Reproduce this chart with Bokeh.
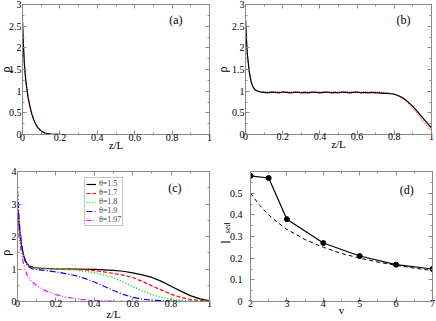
import numpy as np
from bokeh.plotting import figure
from bokeh.models import (Range1d, LinearAxis, FixedTicker, CustomJSTickFormatter,
                          Label, Legend, LegendItem)
from bokeh.layouts import column, row
from bokeh.embed import file_html
from bokeh.resources import INLINE

try:
    from bokeh.models import GlobalInlineStyleSheet
except Exception:  # pragma: no cover
    GlobalInlineStyleSheet = None

FONT = "Liberation Serif"
GRAY = "#8a8a8a"

# ---------------- data ----------------
# panel (a)
A_z = [0, 0.005, 0.01, 0.015, 0.02, 0.03, 0.04, 0.05, 0.06, 0.07, 0.08, 0.1, 0.12,
       0.15, 0.2, 0.3, 0.4, 0.5, 0.6, 0.7, 0.8, 0.9, 1.0]
A_black = [2.6, 2.05, 1.62, 1.35, 1.15, 0.85, 0.64, 0.47, 0.34, 0.24, 0.17, 0.08, 0.035,
           0.012, 0.003, 0, 0, 0, 0, 0, 0, 0, 0]
A_red = [2.7, 2.1, 1.68, 1.4, 1.18, 0.87, 0.65, 0.48, 0.35, 0.25, 0.17, 0.08, 0.035,
         0.012, 0.003, 0, 0, 0, 0, 0, 0, 0, 0]

# panel (b)
B_z = [0, 0.005, 0.01, 0.02, 0.03, 0.04, 0.05, 0.06, 0.08,
       0.10, 0.12, 0.14, 0.16, 0.18, 0.20, 0.22, 0.24, 0.26, 0.28, 0.30,
       0.32, 0.34, 0.36, 0.38, 0.40, 0.42, 0.44, 0.46, 0.48, 0.50,
       0.52, 0.54, 0.56, 0.58, 0.60, 0.62, 0.64, 0.66, 0.68, 0.70,
       0.72, 0.74, 0.76, 0.78, 0.80, 0.82, 0.84, 0.86, 0.88, 0.90,
       0.92, 0.94, 0.96, 0.98, 1.00]
B_black = [2.65, 2.2, 1.85, 1.45, 1.22, 1.1, 1.04, 1.01, 0.98,
           0.97, 0.96, 0.98, 0.97, 0.96, 0.98, 0.97, 0.96, 0.97, 0.98, 0.96,
           0.97, 0.96, 0.98, 0.97, 0.96, 0.97, 0.98, 0.96, 0.97, 0.96,
           0.98, 0.97, 0.96, 0.97, 0.98, 0.96, 0.97, 0.96, 0.97, 0.96,
           0.96, 0.95, 0.95, 0.94, 0.93, 0.90, 0.86, 0.80, 0.73, 0.65,
           0.55, 0.45, 0.35, 0.25, 0.15]
B_red = [2.7, 2.2, 1.85, 1.45, 1.22, 1.1, 1.04, 1.01, 0.99,
         0.98, 0.98, 0.98, 0.98, 0.98, 0.98, 0.98, 0.98, 0.98, 0.98, 0.98,
         0.98, 0.98, 0.98, 0.98, 0.98, 0.98, 0.98, 0.98, 0.98, 0.98,
         0.98, 0.98, 0.98, 0.98, 0.98, 0.98, 0.98, 0.98, 0.98, 0.98,
         0.98, 0.97, 0.96, 0.95, 0.93, 0.89, 0.84, 0.78, 0.70, 0.60,
         0.50, 0.39, 0.28, 0.17, 0.08]

# panel (c)
C_labels = ["θ=1.5", "θ=1.7", "θ=1.8", "θ=1.9", "θ=1.97"]
C_z_15 = [0, 0.01, 0.02, 0.03, 0.04, 0.05, 0.06, 0.08, 0.1, 0.2, 0.3, 0.4, 0.5, 0.55,
          0.6, 0.65, 0.7, 0.75, 0.8, 0.85, 0.9, 0.95, 1.0]
C_r_15 = [2.9, 2.2, 1.75, 1.45, 1.27, 1.16, 1.1, 1.05, 1.03, 1.0, 1.0, 0.99, 0.96, 0.93,
          0.88, 0.82, 0.74, 0.62, 0.47, 0.32, 0.18, 0.08, 0.02]
C_z_17 = [0, 0.01, 0.02, 0.03, 0.04, 0.05, 0.06, 0.08, 0.1, 0.2, 0.3, 0.4, 0.45, 0.5,
          0.55, 0.6, 0.65, 0.7, 0.75, 0.8, 0.85, 0.9, 0.95, 1.0]
C_r_17 = [3.0, 2.25, 1.78, 1.47, 1.28, 1.17, 1.1, 1.05, 1.03, 1.0, 0.99, 0.95, 0.91, 0.86,
          0.81, 0.74, 0.62, 0.48, 0.35, 0.22, 0.13, 0.06, 0.03, 0.01]
C_z_18 = [0, 0.01, 0.02, 0.03, 0.04, 0.05, 0.06, 0.08, 0.1, 0.2, 0.3, 0.35, 0.4, 0.45,
          0.5, 0.55, 0.6, 0.65, 0.7, 0.75, 0.8, 0.85, 0.9, 0.95, 1.0]
C_r_18 = [2.7, 2.1, 1.7, 1.42, 1.25, 1.15, 1.09, 1.04, 1.02, 1.0, 0.97, 0.93, 0.88, 0.82,
          0.73, 0.6, 0.46, 0.33, 0.21, 0.13, 0.07, 0.03, 0.015, 0.005, 0.0]
C_z_19 = [0, 0.01, 0.02, 0.03, 0.04, 0.05, 0.06, 0.08, 0.1, 0.15, 0.2, 0.25, 0.3, 0.35,
          0.4, 0.45, 0.5, 0.55, 0.6, 0.65, 0.7, 0.8, 0.9, 1.0]
C_r_19 = [3.4, 2.4, 1.8, 1.45, 1.25, 1.13, 1.06, 1.0, 0.98, 0.95, 0.91, 0.86, 0.8, 0.71,
          0.6, 0.47, 0.34, 0.22, 0.13, 0.07, 0.04, 0.01, 0.0, 0.0]
C_z_197 = [0, 0.01, 0.02, 0.03, 0.04, 0.05, 0.07, 0.1, 0.15, 0.2, 0.25, 0.3, 0.35, 0.4,
           0.5, 0.6, 0.8, 1.0]
C_r_197 = [2.5, 1.9, 1.5, 1.2, 0.98, 0.82, 0.64, 0.48, 0.32, 0.21, 0.14, 0.09, 0.05, 0.03,
           0.01, 0.0, 0.0, 0.0]

# panel (d)
D_v = [2, 2.5, 3, 4, 5, 6, 7]
D_l = [0.58, 0.57, 0.38, 0.27, 0.21, 0.17, 0.15]
D_th_v = [2, 2.25, 2.5, 2.75, 3, 3.5, 4, 4.5, 5, 5.5, 6, 6.5, 7]
D_th_l = [0.5, 0.444, 0.4, 0.364, 0.333, 0.286, 0.25, 0.222, 0.2, 0.182, 0.167, 0.154, 0.143]

Z_TICKS = [0, 0.2, 0.4, 0.6, 0.8, 1.0]
Z_MINOR = [0.1, 0.3, 0.5, 0.7, 0.9]
RHO3_TICKS = [0, 0.5, 1, 1.5, 2, 2.5, 3]
RHO3_MINOR = [0.25, 0.75, 1.25, 1.75, 2.25, 2.75]
RHO4_TICKS = [0, 1, 2, 3, 4]
RHO4_MINOR = [0.5, 1.5, 2.5, 3.5]
V_TICKS = [2, 3, 4, 5, 6, 7]
V_MINOR = [2.5, 3.5, 4.5, 5.5, 6.5]
L_TICKS = [0, 0.1, 0.2, 0.3, 0.4, 0.5]
L_MINOR = [0.05, 0.15, 0.25, 0.35, 0.45, 0.55]

FMT = CustomJSTickFormatter(code="return String(Math.round(tick*100)/100);")
BLANK = CustomJSTickFormatter(code="return '';")


def make_fig(w, h, bl, br, bt, bb, xr, yr, xt, xm, yt, ym, ystand=1, xstand=1):
    p = figure(width=w, height=h, output_backend="svg", toolbar_location=None,
               x_range=Range1d(*xr), y_range=Range1d(*yr),
               x_axis_location=None, y_axis_location=None,
               min_border_left=bl, min_border_right=br,
               min_border_top=bt, min_border_bottom=bb)
    p.xgrid.visible = False
    p.ygrid.visible = False
    p.outline_line_color = GRAY
    p.background_fill_color = "white"
    p.border_fill_color = "white"
    axes = {}
    for loc, ticks, minor in (("below", xt, xm), ("above", xt, xm),
                              ("left", yt, ym), ("right", yt, ym)):
        labelled = loc in ("below", "left")
        ax = LinearAxis(ticker=FixedTicker(ticks=ticks, minor_ticks=minor),
                        formatter=FMT if labelled else BLANK)
        ax.axis_line_color = GRAY
        ax.major_tick_line_color = GRAY
        ax.minor_tick_line_color = GRAY
        ax.major_tick_in = 4
        ax.major_tick_out = 0
        ax.minor_tick_in = 2
        ax.minor_tick_out = 0
        if labelled:
            ax.major_label_standoff = ystand if loc == "left" else xstand
            ax.major_label_text_font = FONT
            ax.major_label_text_font_size = "10px"
            ax.major_label_text_color = "black"
            ax.axis_label_text_font = FONT
            ax.axis_label_text_font_style = "normal"
            ax.axis_label_text_color = "black"
        else:
            ax.major_label_standoff = 0
            ax.major_label_text_font_size = "0px"
        p.add_layout(ax, loc)
        axes[loc] = ax
    return p, axes


def set_axis_title(ax, text, size, standoff):
    ax.axis_label = text
    ax.axis_label_text_font_size = size
    ax.axis_label_standoff = standoff


def aux_left_label(p, text, ypos, size, standoff):
    """A tick-less left axis whose single tick label acts as a rotated title."""
    ax = LinearAxis(ticker=FixedTicker(ticks=[ypos], minor_ticks=[]),
                    formatter=BLANK, major_label_overrides={ypos: text})
    ax.axis_line_color = None
    ax.major_tick_line_color = None
    ax.minor_tick_line_color = None
    ax.major_tick_in = 0
    ax.major_tick_out = 0
    ax.minor_tick_in = 0
    ax.minor_tick_out = 0
    ax.major_label_orientation = "vertical"
    ax.major_label_standoff = standoff
    ax.major_label_text_font = FONT
    ax.major_label_text_font_size = size
    ax.major_label_text_color = "black"
    p.add_layout(ax, "left")


def add_label(p, text, x, y, size="12px"):
    p.add_layout(Label(x=x, y=y, text=text, text_font=FONT, text_font_size=size,
                       text_color="black", text_align="center", text_baseline="middle"))


# ---------------- (a) ----------------
pa, axa = make_fig(218, 167, 28, 3, 11, 26, (0, 1), (0, 3), Z_TICKS, Z_MINOR,
                   RHO3_TICKS, RHO3_MINOR, ystand=1, xstand=-1)
pa.line(A_z, A_red, line_color="red", line_dash="1 1", line_width=1)
pa.line(A_z, A_black, line_color="black", line_width=1.2)
add_label(pa, "(a)", 0.82, 2.65)
set_axis_title(axa["left"], "ρ", "12px", -7)
set_axis_title(axa["below"], "z/L", "11px", -5)

# ---------------- (b) ----------------
pb, axb = make_fig(224, 167, 33, 5, 11, 25, (0, 1), (0, 3), Z_TICKS, Z_MINOR,
                   RHO3_TICKS, RHO3_MINOR, ystand=1, xstand=-2)
pb.line(B_z, B_red, line_color="red", line_dash="1 1", line_width=1)
pb.line(B_z, B_black, line_color="black", line_width=1.2)
add_label(pb, "(b)", 0.85, 2.65)
set_axis_title(axb["left"], "ρ", "12px", -1)
set_axis_title(axb["below"], "z/L", "11px", -5)

# ---------------- (c) ----------------
pc, axc = make_fig(221, 169, 23, 6, 11, 28, (0, 1), (0, 4), Z_TICKS, Z_MINOR,
                   RHO4_TICKS, RHO4_MINOR, ystand=1, xstand=-2)
r1 = pc.line(C_z_15, C_r_15, line_color="black", line_width=1.2)
r2 = pc.line(C_z_17, C_r_17, line_color="red", line_dash="4 2", line_width=1.2)
r3 = pc.line(C_z_18, C_r_18, line_color="#00dd00", line_dash="1 2", line_width=1.5)
r4 = pc.line(C_z_19, C_r_19, line_color="blue", line_dash="6 2 1 2", line_width=1.2)
r5 = pc.line(C_z_197, C_r_197, line_color="magenta", line_dash="5 2 1 2 1 2", line_width=1.2)
add_label(pc, "(c)", 0.82, 3.48)
aux_left_label(pc, "ρ", 1.5, "12px", -4)
set_axis_title(axc["below"], "z/L", "11px", -2)
legend = Legend(items=[LegendItem(label=lab, renderers=[r])
                       for lab, r in zip(C_labels, [r1, r2, r3, r4, r5])],
                location=(67, 75))
legend.label_text_font = FONT
legend.label_text_font_size = "8px"
legend.label_height = 6
legend.label_standoff = 3
legend.glyph_width = 10
legend.glyph_height = 6
try:
    legend.spacing = -2
except Exception:
    legend.spacing = 0
legend.padding = 1
legend.margin = 0
legend.border_line_color = GRAY
legend.background_fill_color = "white"
legend.background_fill_alpha = 1
pc.add_layout(legend)

# ---------------- (d) ----------------
pd_, axd = make_fig(221, 169, 35, 4, 9, 24, (2, 7), (0, 0.6), V_TICKS, V_MINOR,
                    L_TICKS, L_MINOR, ystand=8, xstand=-2)
pd_.line(D_th_v, D_th_l, line_color="black", line_dash="4 3", line_width=1)
pd_.line(D_v, D_l, line_color="black", line_width=1.2)
pd_.scatter(D_v, D_l, size=5, color="black")
add_label(pd_, "(d)", 6.29, 0.516)
aux_left_label(pd_, "sed", 0.34, "8px", -6)
aux_left_label(pd_, "l", 0.274, "12px", -13)
set_axis_title(axd["below"], "v", "11px", -6)

sheets = []
if GlobalInlineStyleSheet is not None:
    sheets = [GlobalInlineStyleSheet(css="html, body { overflow: hidden !important; }")]

layout = column(row(pa, pb), row(pc, pd_),
                styles={"margin-left": "-6px", "margin-top": "-7px"},
                stylesheets=sheets)

open("out.html", "w").write(file_html(layout, INLINE))
